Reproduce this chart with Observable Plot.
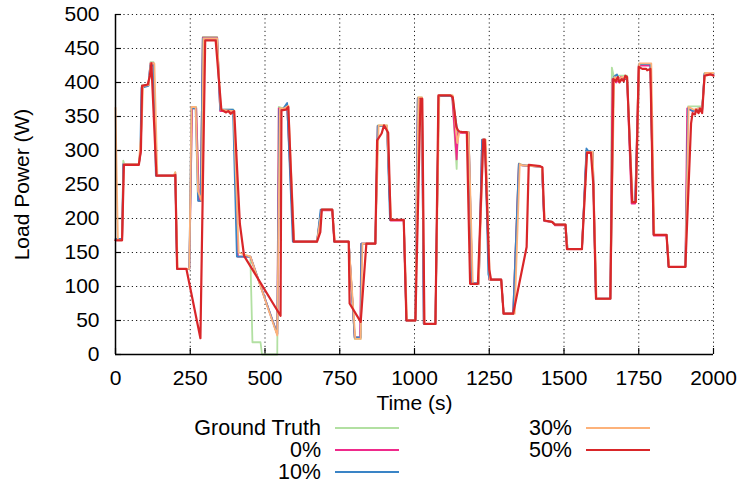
<!DOCTYPE html>
<html>
<head>
<meta charset="utf-8">
<script src="https://cdn.jsdelivr.net/npm/d3@7"></script>
<script src="https://cdn.jsdelivr.net/npm/@observablehq/plot@0.6"></script>
<style>
  html, body { margin: 0; padding: 0; background: white; }
  #wrap { position: relative; width: 742px; height: 484px; font-family: "Liberation Sans", Arial, sans-serif; }
  .lg-text { position: absolute; font-size: 21.5px; line-height: 19px; height: 19px; transform: translate(-100%, -50%); white-space: nowrap; color: black; }
  .lg-line { position: absolute; height: 2px; }
</style>
</head>
<body>
<div id="wrap"></div>
<script>
// Tick labels
const xTicks = [0, 250, 500, 750, 1000, 1250, 1500, 1750, 2000];
const yTicks = [0, 50, 100, 150, 200, 250, 300, 350, 400, 450, 500];

// Series names and colours
const seriesNames = ["Ground Truth", "0%", "10%", "30%", "50%"];
const seriesColors = ["#b2e0a2", "#ef2a8b", "#3a84c6", "#fdb27a", "#d92629"];

// Ground Truth [time s, power W]
const groundTruth = [[0,168],[22,168],[26,285],[30,279],[78,279],[85,300],[88,396],[111,396],[117,430],[127,430],[137,263],[195,263],[200,268],[206,126],[247,126],[256,364],[270,364],[279,226],[285,226],[292,467],[340,467],[350,360],[395,360],[409,144],[451,144],[458,18],[485,18],[490,0],[541,0],[546,364],[560,362],[574,367],[596,166],[674,166],[688,213],[725,213],[732,166],[780,166],[800,23],[820,23],[822,163],[869,163],[877,337],[908,337],[920,198],[964,198],[973,50],[1003,50],[1011,378],[1025,378],[1031,45],[1070,45],[1081,381],[1126,381],[1141,273],[1145,327],[1181,327],[1193,104],[1215,104],[1226,316],[1236,316],[1250,110],[1290,110],[1298,60],[1330,60],[1349,281],[1360,279],[1426,276],[1434,197],[1460,195],[1470,191],[1505,191],[1510,155],[1560,155],[1575,298],[1596,298],[1607,82],[1655,82],[1660,422],[1666,410],[1711,410],[1728,224],[1738,224],[1750,427],[1789,427],[1800,176],[1843,176],[1850,129],[1906,129],[1915,365],[1935,365],[1962,365],[1970,414],[2000,414]];

// 0%
const pct0 = [[0,168],[22,168],[27,280],[78,280],[85,300],[88,395],[110,396],[117,428],[127,428],[137,263],[195,263],[200,266],[206,126],[247,126],[256,362],[270,362],[279,226],[285,226],[292,466],[340,466],[350,358],[395,358],[409,144],[451,144],[541,30],[546,362],[560,360],[574,366],[596,166],[674,166],[688,212],[725,212],[732,166],[780,166],[800,25],[818,25],[822,163],[869,163],[877,336],[908,336],[920,197],[964,197],[973,50],[1003,50],[1011,377],[1025,377],[1031,45],[1070,45],[1081,380],[1126,380],[1141,287],[1145,326],[1181,326],[1193,104],[1215,104],[1226,315],[1236,315],[1250,110],[1290,110],[1298,60],[1330,60],[1349,280],[1360,278],[1426,276],[1434,196],[1460,195],[1470,190],[1505,190],[1510,155],[1560,155],[1575,296],[1596,296],[1607,82],[1655,82],[1662,405],[1675,400],[1690,408],[1711,405],[1726,222],[1738,222],[1750,425],[1789,425],[1800,175],[1843,175],[1850,129],[1906,129],[1912,362],[1930,358],[1950,360],[1962,358],[1970,412],[2000,412]];

// 10%
const pct10 = [[0,170],[22,170],[26,280],[78,280],[83,300],[87,392],[110,395],[116,425],[127,425],[135,263],[195,263],[200,265],[206,126],[247,126],[254,362],[268,362],[276,226],[285,226],[292,465],[340,465],[350,360],[393,360],[406,144],[451,144],[541,30],[548,360],[562,362],[574,370],[593,166],[674,166],[686,213],[725,213],[732,166],[780,166],[800,25],[820,25],[822,163],[869,163],[877,336],[908,336],[918,198],[964,198],[973,50],[1003,50],[1011,377],[1025,377],[1031,45],[1070,45],[1081,380],[1126,380],[1143,330],[1150,327],[1181,327],[1193,105],[1215,105],[1226,316],[1236,316],[1247,118],[1252,110],[1290,110],[1298,60],[1330,60],[1349,280],[1360,278],[1426,276],[1434,197],[1460,195],[1470,191],[1505,191],[1512,155],[1560,155],[1575,303],[1580,300],[1596,298],[1607,82],[1655,82],[1666,408],[1677,412],[1685,403],[1711,406],[1728,224],[1738,224],[1752,427],[1789,427],[1800,176],[1843,176],[1850,129],[1906,129],[1915,362],[1930,358],[1950,362],[1962,360],[1970,413],[2000,413]];

// 30%
const pct30 = [[0,363],[8,168],[22,168],[28,280],[78,280],[88,340],[92,395],[111,396],[118,428],[130,428],[140,263],[195,263],[200,268],[208,126],[247,126],[254,364],[268,364],[276,240],[288,226],[294,465],[340,465],[352,360],[395,358],[412,150],[451,144],[541,28],[550,362],[565,362],[578,366],[598,166],[674,166],[690,213],[725,213],[734,166],[780,166],[802,23],[820,23],[826,163],[869,163],[880,337],[908,337],[922,198],[964,198],[975,50],[1003,50],[1013,378],[1025,378],[1033,45],[1070,45],[1083,381],[1128,381],[1143,311],[1150,327],[1181,327],[1195,104],[1215,104],[1230,316],[1238,316],[1252,110],[1290,110],[1298,60],[1335,60],[1352,280],[1362,278],[1426,276],[1436,197],[1460,195],[1470,191],[1505,191],[1512,155],[1560,155],[1577,298],[1596,298],[1609,82],[1655,82],[1668,408],[1680,404],[1695,408],[1711,406],[1730,224],[1740,224],[1752,428],[1792,428],[1802,176],[1843,176],[1852,129],[1906,129],[1917,364],[1935,360],[1950,362],[1962,360],[1972,414],[2000,414]];

// 50%
const pct50 = [[0,168],[22,168],[28,279],[78,279],[85,300],[89,395],[108,397],[115,410],[120,428],[137,263],[195,263],[200,264],[206,126],[237,126],[284,24],[300,462],[335,462],[354,360],[370,356],[377,358],[385,354],[397,358],[416,192],[430,145],[552,57],[555,359],[570,360],[578,364],[596,166],[674,166],[685,180],[690,213],[725,213],[732,166],[780,166],[783,75],[820,48],[839,163],[869,163],[875,315],[890,325],[898,337],[912,326],[920,198],[964,198],[973,50],[1003,50],[1020,376],[1026,376],[1033,45],[1070,45],[1080,381],[1120,381],[1128,378],[1140,335],[1145,330],[1150,328],[1160,327],[1175,327],[1186,104],[1206,104],[1212,104],[1230,316],[1235,316],[1250,125],[1256,110],[1290,110],[1298,60],[1330,60],[1375,158],[1382,279],[1420,277],[1428,275],[1434,197],[1460,195],[1470,191],[1505,191],[1510,155],[1560,155],[1577,297],[1590,297],[1598,250],[1607,82],[1655,82],[1665,405],[1673,402],[1680,408],[1685,400],[1693,405],[1700,402],[1705,410],[1711,408],[1728,224],[1740,224],[1750,423],[1762,420],[1775,420],[1778,418],[1789,420],[1800,176],[1843,176],[1850,129],[1906,129],[1925,340],[1930,355],[1938,353],[1942,360],[1950,355],[1955,362],[1962,355],[1970,410],[1990,412],[2000,410]];

const seriesData = [groundTruth, pct0, pct10, pct30, pct50];

const lineMarks = seriesData.map((arr, i) =>
  Plot.line(arr, {x: d => d[0], y: d => d[1], stroke: seriesColors[i], strokeWidth: i === 4 ? 2.2 : 1.8, strokeLinejoin: "round"})
);

const chart = Plot.plot({
  width: 742,
  height: 484,
  marginLeft: 115,
  marginRight: 29,
  marginTop: 14,
  marginBottom: 130,
  style: {fontFamily: "'Liberation Sans', Arial, sans-serif", fontSize: "21px", color: "black", background: "white"},
  x: {domain: [0, 2000]},
  y: {domain: [0, 500]},
  marks: [
    Plot.gridX(xTicks, {stroke: "#222", strokeOpacity: 1, strokeDasharray: "1.2,3"}),
    Plot.gridY(yTicks, {stroke: "#222", strokeOpacity: 1, strokeDasharray: "1.2,3"}),
    Plot.ruleX(xTicks, {insetTop: 334, stroke: "black", strokeWidth: 1.2}),
    Plot.ruleY(yTicks, {insetRight: 592, stroke: "black", strokeWidth: 1.2}),
    Plot.axisX(xTicks, {tickSize: 0, tickPadding: 16, label: null, tickFormat: d => String(d)}),
    Plot.axisY(yTicks, {tickSize: 0, tickPadding: 16, label: null, tickFormat: d => String(d)}),
    ...lineMarks,
    Plot.ruleX([0], {stroke: "black", strokeWidth: 1.5}),
    Plot.ruleY([0], {stroke: "black", strokeWidth: 1.5}),
    Plot.text(["Time (s)"], {text: d => d, frameAnchor: "bottom", textAnchor: "middle", dy: 55, fontSize: 21}),
    Plot.text(["Load Power (W)"], {text: d => d, frameAnchor: "left", textAnchor: "middle", dx: -93, rotate: -90, fontSize: 21})
  ]
});

const wrap = document.getElementById("wrap");
wrap.appendChild(chart);

// Legend (gnuplot style, 3 rows per column)
seriesNames.forEach((name, i) => {
  const col = Math.floor(i / 3), row = i % 3;
  const textRight = 321 + col * 251;
  const cy = 428 + row * 22;
  const t = document.createElement("div");
  t.className = "lg-text";
  t.textContent = name;
  t.style.left = textRight + "px";
  t.style.top = cy + "px";
  wrap.appendChild(t);
  const l = document.createElement("div");
  l.className = "lg-line";
  l.style.left = (textRight + 14) + "px";
  l.style.top = (cy - 1) + "px";
  l.style.width = "64px";
  l.style.background = seriesColors[i];
  wrap.appendChild(l);
});
</script>
</body>
</html>
